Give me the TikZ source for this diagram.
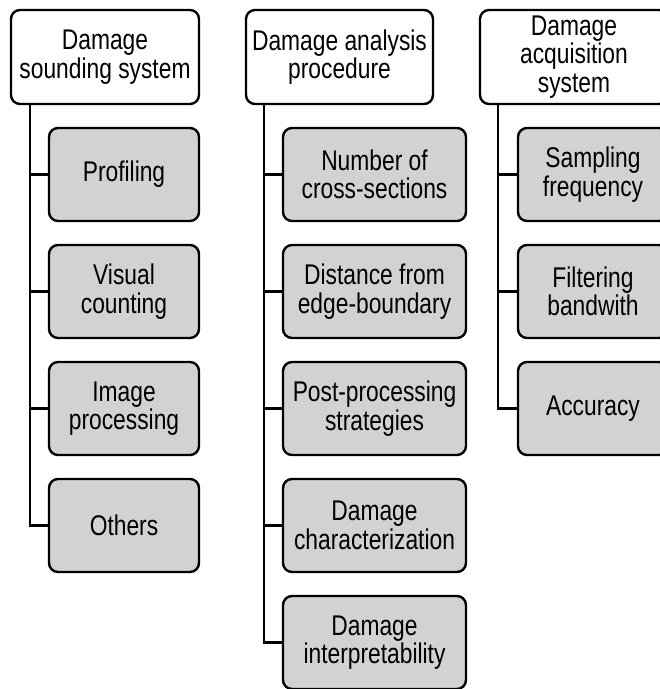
\documentclass[tikz,border=0pt]{standalone}
\usepackage{fontspec}
\setmainfont{Liberation Sans}[FakeStretch=0.80]
\definecolor{boxgray}{RGB}{210,210,210}
\begin{document}
\begin{tikzpicture}[x=1pt,y=-1pt,line width=2.4pt,
  headbox/.style={draw,rounded corners=9pt,fill=white,align=center,inner sep=0pt,
    minimum width=188pt,minimum height=94pt,font=\fontsize{28.5}{28.5}\selectfont},
  subbox/.style={headbox,fill=boxgray,minimum height=93pt}]
\useasboundingbox (0,0) rectangle (660,689);
% column 1
\node [headbox,name=sound] at (105,57){Damage\\sounding system};
\node [subbox,name=prof,minimum width=150pt] at (124,174.5){Profiling};
\node [subbox,name=visual,minimum width=150pt] at (124,291.5){Visual\\counting};
\node [subbox,name=image,minimum width=150pt] at (124,408.5){Image\\processing};
\node [subbox,name=others,minimum width=150pt] at (124,525.5){Others};
\draw ([xshift=20pt]sound.south west) |- (prof.west);
\draw ([xshift=20pt]sound.south west) |- (visual.west);
\draw ([xshift=20pt]sound.south west) |- (image.west);
\draw ([xshift=20pt]sound.south west) |- (others.west);
% column 2
\node [headbox,name=analysis,minimum width=187pt] at (339.5,57){Damage analysis\\procedure};
\node [subbox,name=number,minimum width=183pt] at (374.5,174.5){Number of\\cross-sections};
\node [subbox,name=distance,minimum width=183pt] at (374.5,291.5){Distance from\\edge-boundary};
\node [subbox,name=post,minimum width=183pt] at (374.5,408.5){Post-processing\\strategies};
\node [subbox,name=charac,minimum width=183pt] at (374.5,525.5){Damage\\characterization};
\node [subbox,name=interp,minimum width=183pt] at (374.5,642.5){Damage\\interpretability};
\draw ([xshift=19pt]analysis.south west) |- (number.west);
\draw ([xshift=19pt]analysis.south west) |- (distance.west);
\draw ([xshift=19pt]analysis.south west) |- (post.west);
\draw ([xshift=19pt]analysis.south west) |- (charac.west);
\draw ([xshift=19pt]analysis.south west) |- (interp.west);
% column 3
\node [headbox,name=acq] at (574,57){Damage\\acquisition\\system};
\node [subbox,name=sampling,minimum width=150pt] at (593,174.5){Sampling\\frequency};
\node [subbox,name=filtering,minimum width=150pt] at (593,291.5){Filtering\\bandwith};
\node [subbox,name=accuracy,minimum width=150pt] at (593,408.5){Accuracy};
\draw ([xshift=19pt]acq.south west) |- (sampling.west);
\draw ([xshift=19pt]acq.south west) |- (filtering.west);
\draw ([xshift=19pt]acq.south west) |- (accuracy.west);
\end{tikzpicture}
\end{document}
